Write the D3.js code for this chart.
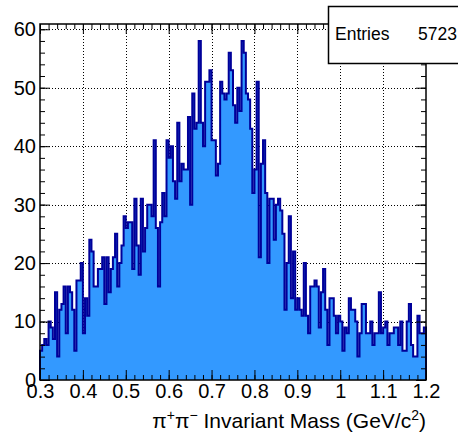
<!DOCTYPE html>
<html>
<head>
<meta charset="utf-8">
<script src="https://cdn.jsdelivr.net/npm/d3@7"></script>
<style>
  body { margin: 0; background: #fff; }
  svg { display: block; }
  text { font-family: "Liberation Sans", Arial, Helvetica, sans-serif; fill: #000; }
</style>
</head>
<body>
<div id="chart"></div>
<script>
// histogram binning: 180 bins from 0.3 to 1.2 GeV/c^2
var xMin = 0.3, xMax = 1.2;
var counts = [
    5, 6, 7, 6, 10, 9, 7, 15, 4, 12, 13, 16, 8, 16, 15, 12, 5, 17, 17, 20,
    8, 14, 11, 24, 22, 16, 16, 19, 19, 21, 13, 21, 15, 19, 21, 25, 16, 20, 23, 28,
    26, 27, 27, 19, 31, 23, 18, 31, 22, 26, 30, 30, 28, 41, 26, 16, 27, 32, 28, 41,
    38, 40, 34, 31, 44, 34, 37, 36, 36, 45, 30, 49, 43, 44, 58, 44, 40, 51, 51, 53,
    41, 41, 35, 37, 51, 49, 48, 49, 56, 53, 47, 44, 50, 46, 58, 56, 49, 48, 43, 32,
    36, 51, 21, 37, 41, 32, 20, 31, 31, 24, 30, 31, 29, 25, 12, 20, 28, 14, 22, 12,
    14, 12, 11, 20, 11, 8, 16, 16, 17, 16, 9, 15, 19, 12, 6, 14, 14, 11, 8, 11,
    10, 5, 9, 8, 14, 12, 12, 10, 4, 8, 13, 13, 8, 8, 10, 6, 8, 8, 15, 8,
    9, 10, 6, 8, 8, 9, 9, 6, 10, 5, 5, 10, 13, 6, 4, 4, 11, 8, 8, 9
];
var xTicks = [0.3, 0.4, 0.5, 0.6, 0.7, 0.8, 0.9, 1.0, 1.1, 1.2];
var yTicks = [0, 10, 20, 30, 40, 50, 60];
var entries = 5723;

var W = 458, H = 433;
var padL = 40, padR = 426, padT = 24, padB = 380;

var svg = d3.select("#chart").append("svg").attr("width", W).attr("height", H);

var nb = counts.length;
var bw = (xMax - xMin) / nb;
var yMax = d3.max(counts) * 1.05;

var x = d3.scaleLinear().domain([xMin, xMax]).range([padL, padR]);
var y = d3.scaleLinear().domain([0, yMax]).range([padB, padT]);

// grid
var grid = svg.append("g").attr("stroke", "#000").attr("stroke-width", 1).attr("stroke-dasharray", "1,2");
grid.selectAll("line.gx").data(xTicks.slice(1, -1)).enter().append("line")
    .attr("x1", function(d) { return Math.round(x(d)) + 0.5; })
    .attr("x2", function(d) { return Math.round(x(d)) + 0.5; })
    .attr("y1", padT).attr("y2", padB);
grid.selectAll("line.gy").data(yTicks.slice(1)).enter().append("line")
    .attr("y1", function(d) { return Math.round(y(d)) + 0.5; })
    .attr("y2", function(d) { return Math.round(y(d)) + 0.5; })
    .attr("x1", padL).attr("x2", padR);

// histogram fill + outline
var pts = [[x(xMin), y(0)]];
counts.forEach(function(c, i) {
    pts.push([x(xMin + i * bw), y(c)]);
    pts.push([x(xMin + (i + 1) * bw), y(c)]);
});
pts.push([x(xMax), y(0)]);

svg.append("path")
    .attr("d", d3.line()(pts) + "Z")
    .attr("fill", "#3399ff")
    .attr("stroke", "none");

svg.append("path")
    .attr("d", d3.line()(pts))
    .attr("fill", "none")
    .attr("stroke", "#000099")
    .attr("stroke-width", 2)
    .attr("stroke-linejoin", "miter");

// axes (ticks on all four sides like ROOT with tick marks on)
var xMinor = d3.range(0, 46).map(function(i) { return 0.3 + i * 0.02; });
var yMinor = d3.range(0, 31).map(function(i) { return i * 2; });

var bottomAxis = d3.axisBottom(x).tickValues(xTicks).tickSize(-10).tickPadding(4)
    .tickFormat(function(d) { return d3.format("~g")(d); });
var bottomG = svg.append("g").attr("transform", "translate(0," + padB + ")").call(bottomAxis);
bottomG.append("g").call(d3.axisBottom(x).tickValues(xMinor).tickSize(-5).tickFormat(""));

var topG = svg.append("g").attr("transform", "translate(0," + padT + ")")
    .call(d3.axisTop(x).tickValues(xTicks).tickSize(-10).tickFormat(""));
topG.append("g").call(d3.axisTop(x).tickValues(xMinor).tickSize(-5).tickFormat(""));

var leftAxis = d3.axisLeft(y).tickValues(yTicks).tickSize(-10).tickPadding(4);
var leftG = svg.append("g").attr("transform", "translate(" + padL + ",0)").call(leftAxis);
leftG.append("g").call(d3.axisLeft(y).tickValues(yMinor).tickSize(-5).tickFormat(""));

var rightG = svg.append("g").attr("transform", "translate(" + padR + ",0)")
    .call(d3.axisRight(y).tickValues(yTicks).tickSize(-10).tickFormat(""));
rightG.append("g").call(d3.axisRight(y).tickValues(yMinor).tickSize(-5).tickFormat(""));

svg.selectAll(".domain").remove();
svg.selectAll(".tick line").attr("stroke", "#000").attr("stroke-width", 1);
svg.selectAll(".tick text").attr("font-size", 20).attr("font-family", "Liberation Sans, Arial, sans-serif");

// frame
svg.append("rect")
    .attr("x", padL).attr("y", padT)
    .attr("width", padR - padL).attr("height", padB - padT)
    .attr("fill", "none").attr("stroke", "#000").attr("stroke-width", 1.5);

// x-axis title
var title = svg.append("text")
    .attr("x", padR).attr("y", 428)
    .attr("text-anchor", "end")
    .attr("font-size", 21);
title.append("tspan").text("\u03c0");
title.append("tspan").attr("font-size", 14).attr("dy", -8).text("+");
title.append("tspan").attr("dy", 8).text("\u03c0");
title.append("tspan").attr("font-size", 14).attr("dy", -8).text("\u2212");
title.append("tspan").attr("dy", 8).text(" Invariant Mass (GeV/c");
title.append("tspan").attr("font-size", 14).attr("dy", -8).text("2");
title.append("tspan").attr("dy", 8).text(")");

// stats box
svg.append("rect")
    .attr("x", 328.5).attr("y", 6.5)
    .attr("width", 140).attr("height", 57)
    .attr("fill", "#fff").attr("stroke", "#000").attr("stroke-width", 1.5);
svg.append("text").attr("x", 335).attr("y", 40).attr("font-size", 17.5).text("Entries");
svg.append("text").attr("x", 457).attr("y", 40).attr("font-size", 17.5)
    .attr("text-anchor", "end").text(entries);
</script>
</body>
</html>
